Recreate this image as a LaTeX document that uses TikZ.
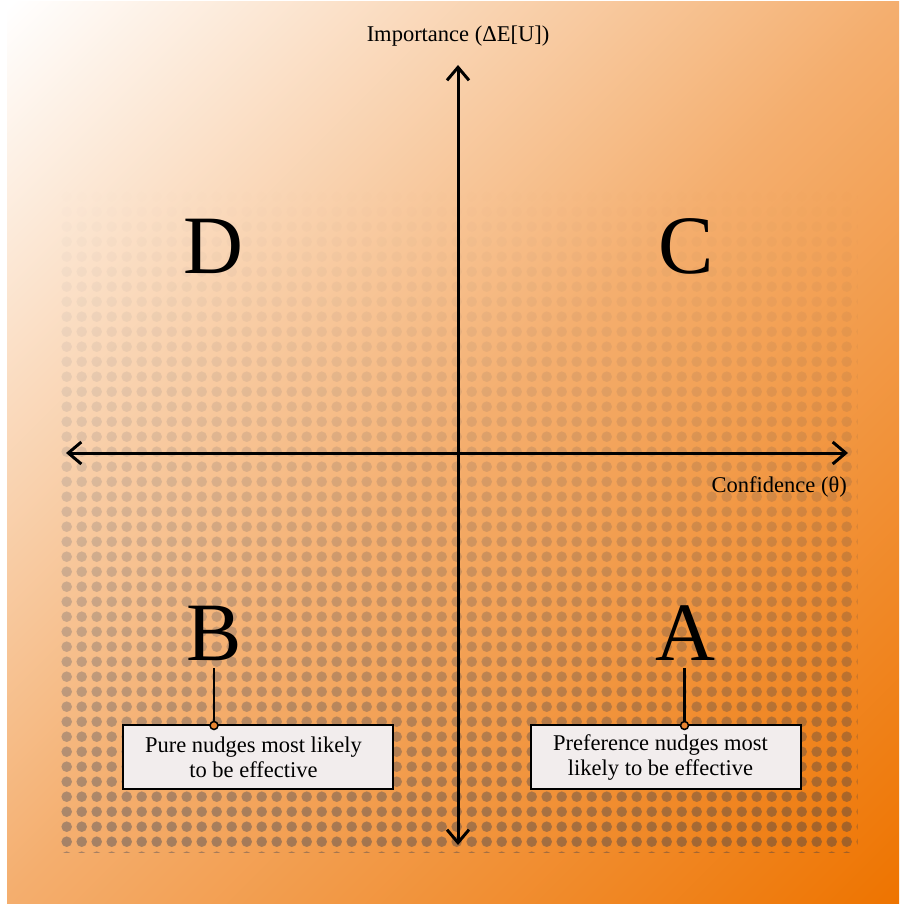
\documentclass[tikz,border=0pt]{standalone}
\usepackage{fontspec}
\setmainfont{Liberation Serif}
\usetikzlibrary{arrows.meta}
\definecolor{bgA}{HTML}{FFFFFF}
\definecolor{bgM}{HTML}{F4AE6E}
\definecolor{bgC}{HTML}{EE7400}
\definecolor{dotc}{HTML}{0F2F5A}
\definecolor{boxfill}{HTML}{F2EDED}
\definecolor{pinfill}{HTML}{E98530}
\pgfdeclarehorizontalshading{bgsh}{100bp}{color(0bp)=(bgA); color(14.6bp)=(bgA); color(50bp)=(bgM); color(85.4bp)=(bgC); color(100bp)=(bgC)}
\tikzset{
  axisline/.style={line width=3pt, {Straight Barb[length=13pt,width=22pt]}-{Straight Barb[length=13pt,width=22pt]}},
  bigletter/.style={font=\fontsize{83}{90}\selectfont, inner sep=0pt},
  lab/.style={font=\fontsize{22.5}{25}\selectfont, inner sep=0pt},
  notebox/.style={draw=black, line width=2pt, fill=boxfill, minimum width=270pt, minimum height=64pt, inner sep=0pt},
  notetext/.style={font=\fontsize{22.5}{25}\selectfont, align=center, inner sep=0pt},
  pindot/.style={circle, draw=black, line width=1.5pt, fill=pinfill, minimum size=8pt, inner sep=0pt},
  pinline/.style={line width=2.5pt, shorten <=8pt}
}
\begin{document}
\begin{tikzpicture}[x=1pt,y=-1pt]
\useasboundingbox (0,0) rectangle (901,904);
\shade[shading=bgsh, shading angle=-45] (7,2) rectangle (899,904);
% dot pattern
\begin{scope}
\clip (55,170) rectangle (857.5,852);
\foreach \r in {-1,...,45} {
  \pgfmathsetmacro\yy{841.7-15*\r}
  \pgfmathsetmacro\op{min(0.34,0.34*(max(0,(\yy-170)/672))^1.3)}
  \fill[dotc, fill opacity=\op] foreach \c in {0,...,53} { (66.7+15*\c,\yy) circle[radius=5.3pt] };
}
\end{scope}
% axes
\coordinate (ytop) at (458,65);
\coordinate (ybot) at (458,845);
\coordinate (xleft) at (66,453);
\coordinate (xright) at (848,453);
\draw[axisline] (ybot) -- (ytop);
\draw[axisline] (xleft) -- (xright);
\node[lab, anchor=base] (ylab) at (458,42) {Importance (ΔE[U])};
\node[lab, anchor=base east] (xlab) at (847,492) {Confidence (θ)};
% quadrant letters
\node[bigletter, anchor=base] (D) at (213,273) {D};
\node[bigletter, anchor=base] (C) at (686,273) {C};
\node[bigletter, anchor=base] (B) at (214,660) {B};
\node[bigletter, anchor=base] (A) at (685,660) {A};
% boxes
\node[notebox] (boxB) at (258.3,757) {};
\node[notetext] (txtB) at (253.5,757.5) {Pure nudges most likely\\to be effective};
\node[notebox] (boxA) at (666.3,757) {};
\node[notetext] (txtA) at (660.5,757.5) {Preference nudges most\\likely to be effective};
% pins
\node[pindot] (pinB) at (214,725.5) {};
\node[pindot] (pinA) at (684.5,725.5) {};
\draw[pinline] (B.south) -- (pinB.north);
\draw[pinline] (A.south -| pinA) -- (pinA.north);
\end{tikzpicture}
\end{document}
